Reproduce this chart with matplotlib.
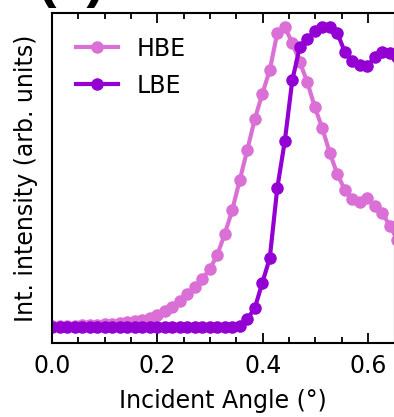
import numpy as np
import matplotlib
matplotlib.use("Agg")
import matplotlib.pyplot as plt
from matplotlib.ticker import MultipleLocator

# incident angle grid (deg)
angle = [0.0, 0.0143, 0.0285, 0.0428, 0.0570, 0.0713, 0.0855, 0.0998, 0.1140, 0.1283,
         0.1425, 0.1568, 0.1710, 0.1853, 0.1995, 0.2138, 0.2280, 0.2423, 0.2565, 0.2708,
         0.2850, 0.2993, 0.3135, 0.3278, 0.3420, 0.3563, 0.3705, 0.3848, 0.3990, 0.4133,
         0.4275, 0.4418, 0.4560, 0.4703, 0.4845, 0.4988, 0.5130, 0.5273, 0.5415, 0.5558,
         0.5700, 0.5843, 0.5985, 0.6128, 0.6270, 0.6413, 0.6555]

# integrated intensity (arb. units)
hbe = [0.003, 0.003, 0.005, 0.005, 0.007, 0.007, 0.008, 0.010, 0.012, 0.013,
       0.017, 0.020, 0.023, 0.032, 0.040, 0.053, 0.067, 0.087, 0.110, 0.133,
       0.160, 0.193, 0.240, 0.310, 0.390, 0.490, 0.590, 0.693, 0.777, 0.857,
       0.980, 1.000, 0.947, 0.883, 0.817, 0.733, 0.663, 0.580, 0.510, 0.457,
       0.427, 0.417, 0.430, 0.403, 0.380, 0.337, 0.290]

lbe = [0.0, 0.0, 0.0, 0.0, 0.0, 0.0, 0.0, 0.0, 0.0, 0.0,
       0.0, 0.0, 0.0, 0.0, 0.0, 0.0, 0.0, 0.0, 0.0, 0.0,
       0.0, 0.0, 0.0, 0.0, 0.0, 0.005, 0.027, 0.063, 0.147, 0.230,
       0.463, 0.620, 0.823, 0.933, 0.960, 0.987, 1.000, 1.000, 0.980, 0.917,
       0.887, 0.875, 0.870, 0.900, 0.917, 0.913, 0.900]

fig = plt.figure(figsize=(3.94, 4.17), dpi=100)
ax = fig.add_axes([52 / 394, 74 / 417, 342.5 / 394, 330 / 417])

ax.plot(angle, hbe, "-o", color="orchid", lw=3, ms=8, label="HBE")
ax.plot(angle, lbe, "-o", color="darkviolet", lw=3, ms=8, label="LBE")

ax.set_xlim(0, 0.65)
ax.set_ylim(-0.053, 1.047)
ax.xaxis.set_major_locator(MultipleLocator(0.2))
ax.xaxis.set_minor_locator(MultipleLocator(0.05))
ax.tick_params(axis="x", which="both", direction="in", top=True, labelsize=17, width=1.3)
ax.tick_params(axis="x", which="major", length=7, pad=8)
ax.tick_params(axis="x", which="minor", length=4)
ax.set_yticks([])
for s in ax.spines.values():
    s.set_linewidth(1.5)

ax.set_xlabel("Incident Angle (°)", fontsize=17, labelpad=8)
ax.set_ylabel("Int. intensity (arb. units)", fontsize=17, labelpad=10)

ax.legend(loc="upper left", fontsize=17, frameon=False, handlelength=1.8,
          borderaxespad=0.6, handletextpad=0.8, labelspacing=0.55)

# panel label, mostly above the top edge as in the source figure
fig.text(37 / 394, 1 + 4 / 417, "(a)", fontsize=40, fontweight="bold",
         family="Liberation Sans", ha="left", va="baseline")

fig.savefig("out.png", dpi=100)
